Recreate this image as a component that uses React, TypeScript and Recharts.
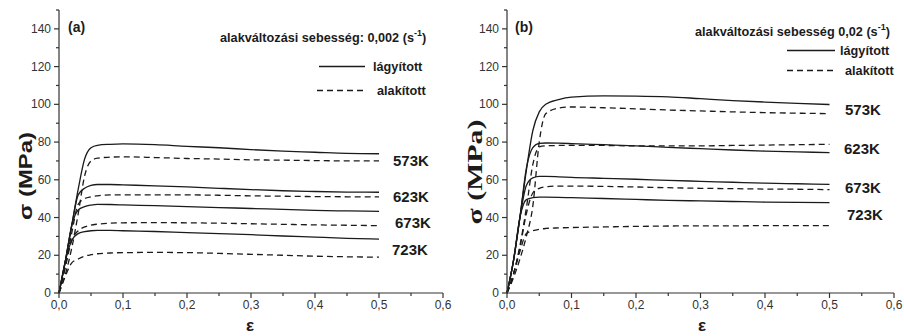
import { LineChart, Line, XAxis, YAxis } from 'recharts'

// strain points (ε) shared by every curve
const strain = [0, 0.01, 0.02, 0.03, 0.04, 0.05, 0.06, 0.08, 0.1, 0.15, 0.2, 0.25, 0.3, 0.35, 0.4, 0.45, 0.5]

// (a) 0,002 1/s  — s = lágyított (solid), d = alakított (dashed)
const a573s = [0, 17, 36, 55, 71, 77, 78.3, 78.8, 79, 78.6, 77.7, 77, 76, 75.2, 74.6, 74, 73.8]
const a573d = [0, 10, 24, 42, 62, 70, 71.5, 72, 72.2, 71.8, 71.3, 71, 70.6, 70.4, 70.2, 70, 70]
const a623s = [0, 17, 36, 52, 55.5, 57, 57.5, 57.5, 57.3, 56.8, 56.2, 55.5, 54.8, 54.2, 53.8, 53.5, 53.4]
const a623d = [0, 14, 32, 47, 50, 51, 51.5, 52, 52, 52, 52, 51.8, 51.5, 51.3, 51.1, 51, 50.9]
const a673s = [0, 17, 36, 44, 45.8, 46.6, 47, 46.9, 46.7, 46.3, 45.8, 45.3, 44.8, 44.3, 43.8, 43.5, 43.3]
const a673d = [0, 14, 28, 33, 35, 36, 36.5, 37, 37.2, 37.3, 37.2, 37, 36.7, 36.4, 36.1, 35.9, 35.7]
const a723s = [0, 17, 28, 31.5, 32.5, 33, 33.2, 33.2, 33, 32.6, 32, 31.5, 30.9, 30.2, 29.6, 29, 28.6]
const a723d = [0, 9, 16, 18, 19.5, 20.3, 20.8, 21.2, 21.4, 21.5, 21.4, 21, 20.5, 20, 19.5, 19.2, 19]

// (b) 0,02 1/s
const b573s = [0, 17, 40, 65, 86, 96, 100, 102.5, 103.8, 104.5, 104.4, 104, 103, 102, 101.2, 100.5, 99.9]
const b573d = [0, 8, 18, 30, 46, 80, 95, 98, 98.6, 98.2, 97.6, 97, 96.5, 96, 95.6, 95.3, 95.1]
const b623s = [0, 17, 40, 66, 77, 79.3, 79.5, 79.4, 79.2, 78.6, 78, 77.2, 76.5, 75.8, 75.2, 74.8, 74.4]
const b623d = [0, 10, 25, 45, 68, 77.5, 78, 78.2, 78.3, 78.2, 78, 78, 78, 78.2, 78.4, 78.6, 78.8]
const b673s = [0, 17, 40, 57, 61, 61.8, 61.8, 61.6, 61.3, 60.8, 60.3, 59.7, 59.2, 58.7, 58.2, 57.9, 57.6]
const b673d = [0, 10, 24, 42, 53, 55.5, 56.3, 56.7, 56.7, 56.5, 56.2, 55.8, 55.5, 55.3, 55.1, 55, 54.8]
const b723s = [0, 17, 40, 49.5, 50.5, 50.8, 50.8, 50.7, 50.5, 50.1, 49.6, 49.1, 48.8, 48.5, 48.2, 48, 47.9]
const b723d = [0, 10, 22, 31.5, 33, 33.8, 34.2, 34.5, 34.7, 35, 35.3, 35.5, 35.6, 35.6, 35.7, 35.7, 35.7]

const temps = ['573K', '623K', '673K', '723K']
const xTicks = [0, 0.05, 0.1, 0.15, 0.2, 0.25, 0.3, 0.35, 0.4, 0.45, 0.5, 0.55, 0.6]
const yTicks = [0, 10, 20, 30, 40, 50, 60, 70, 80, 90, 100, 110, 120, 130, 140, 150]

const INK = '#1b1b1b'
const AXIS = '#333'
const SANS = '"Liberation Sans", Arial, sans-serif'

function buildRows(series: number[][]) {
  return strain.map((e, i) => {
    const row: Record<string, number> = { e }
    series.forEach((s, k) => {
      row['k' + k] = s[i]
    })
    return row
  })
}

const rowsA = buildRows([a573s, a573d, a623s, a623d, a673s, a673d, a723s, a723d])
const rowsB = buildRows([b573s, b573d, b623s, b623d, b673s, b673d, b723s, b723d])

const isMajorX = (v: number) => Math.round(v * 100) % 10 === 0
const isMajorY = (v: number) => Math.round(v) % 20 === 0

function BottomTick(props: any) {
  const { x, y, payload } = props
  const major = isMajorX(payload.value)
  return (
    <g>
      <line x1={x} y1={y} x2={x} y2={y + (major ? 5 : 3)} stroke={AXIS} strokeWidth={1.2} />
      {major && (
        <text x={x} y={y + 12} textAnchor="middle" dominantBaseline="central" fontSize={12} fill="#333" fontFamily={SANS}>
          {payload.value.toFixed(1).replace('.', ',')}
        </text>
      )}
    </g>
  )
}

function TopTick(props: any) {
  const { x, y, payload } = props
  const major = isMajorX(payload.value)
  return <line x1={x} y1={y} x2={x} y2={y - (major ? 5 : 3)} stroke={AXIS} strokeWidth={1.2} />
}

function LeftTick(props: any) {
  const { x, y, payload } = props
  const major = isMajorY(payload.value)
  return (
    <g>
      <line x1={x} y1={y} x2={x - (major ? 5 : 3)} y2={y} stroke={AXIS} strokeWidth={1.2} />
      {major && payload.value < 150 && (
        <text x={x - 8} y={y} textAnchor="end" dominantBaseline="central" fontSize={12} fill="#333" fontFamily={SANS}>
          {payload.value}
        </text>
      )}
    </g>
  )
}

interface PanelProps {
  rows: Record<string, number>[]
  yWidth: number
  rightMargin: number
}

function Panel({ rows, yWidth, rightMargin }: PanelProps) {
  return (
    <LineChart width={452} height={336} data={rows} margin={{ top: 10, right: rightMargin, bottom: 0, left: 0 }}>
      <XAxis
        dataKey="e"
        type="number"
        domain={[0, 0.6]}
        ticks={xTicks}
        interval={0}
        height={43}
        tickSize={0}
        tickMargin={0}
        tickLine={false}
        axisLine={{ stroke: AXIS, strokeWidth: 1.2 }}
        tick={<BottomTick />}
      />
      <XAxis
        xAxisId="top"
        orientation="top"
        dataKey="e"
        type="number"
        domain={[0, 0.6]}
        ticks={xTicks}
        interval={0}
        height={0}
        tickSize={0}
        tickMargin={0}
        tickLine={false}
        axisLine={{ stroke: AXIS, strokeWidth: 1.2 }}
        tick={<TopTick />}
      />
      <YAxis
        type="number"
        domain={[0, 150]}
        ticks={yTicks}
        interval={0}
        width={yWidth}
        tickSize={0}
        tickMargin={0}
        tickLine={false}
        axisLine={{ stroke: AXIS, strokeWidth: 1.2 }}
        tick={<LeftTick />}
      />
      <YAxis
        yAxisId="right"
        orientation="right"
        type="number"
        domain={[0, 150]}
        width={0}
        tick={false}
        tickLine={false}
        axisLine={{ stroke: AXIS, strokeWidth: 1.2 }}
      />
      {[0, 1, 2, 3, 4, 5, 6, 7].map(k => (
        <Line
          key={k}
          dataKey={'k' + k}
          type="monotone"
          stroke={INK}
          strokeWidth={1.3}
          strokeDasharray={k % 2 === 1 ? '6 4' : undefined}
          dot={false}
          activeDot={false}
          isAnimationActive={false}
        />
      ))}
    </LineChart>
  )
}

const labelStyle = { fontFamily: SANS, fontWeight: 700, fill: '#1b1b1b' }
const LEG = 12.7

export default function App() {
  return (
    <div style={{ position: 'absolute', left: 0, top: 0, width: 904, height: 336, background: '#fff' }}>
      <div style={{ position: 'absolute', left: 0, top: 0 }}>
        <Panel rows={rowsA} yWidth={59} rightMargin={9} />
      </div>
      <div style={{ position: 'absolute', left: 452, top: 0 }}>
        <Panel rows={rowsB} yWidth={55} rightMargin={10} />
      </div>

      {/* annotations (a) */}
      <svg width={452} height={336} style={{ position: 'absolute', left: 0, top: 0, pointerEvents: 'none' }}>
        <text x={68} y={27} fontSize={14} dominantBaseline="central" {...labelStyle}>(a)</text>
        <text x={220} y={38} fontSize={LEG} dominantBaseline="central" {...labelStyle}>
          alakváltozási sebesség: 0,002 (s<tspan dy={-5} fontSize={9}>-1</tspan><tspan dy={5}>)</tspan>
        </text>
        <line x1={319} y1={66.5} x2={365} y2={66.5} stroke={INK} strokeWidth={1.3} />
        <text x={373} y={67} fontSize={LEG} dominantBaseline="central" {...labelStyle}>lágyított</text>
        <line x1={317} y1={90.5} x2={367} y2={90.5} stroke={INK} strokeWidth={1.3} strokeDasharray="6 4" />
        <text x={377} y={91} fontSize={LEG} dominantBaseline="central" {...labelStyle}>alakított</text>
        {temps.map((t, i) => (
          <text key={t} x={[393, 393, 395, 392][i]} y={[160, 196, 222, 249][i]} fontSize={15} dominantBaseline="central" {...labelStyle}>{t}</text>
        ))}
        <text
          transform="translate(25,176) rotate(-90)"
          textAnchor="middle"
          dominantBaseline="central"
          fontSize={19}
          textLength={88}
          lengthAdjust="spacingAndGlyphs"
          {...labelStyle}
        >
          σ (MPa)
        </text>
        <text x={250} y={325} textAnchor="middle" dominantBaseline="central" fontSize={17} {...labelStyle}>ε</text>
      </svg>

      {/* annotations (b) */}
      <svg width={452} height={336} style={{ position: 'absolute', left: 452, top: 0, pointerEvents: 'none' }}>
        <text x={63} y={27} fontSize={14} dominantBaseline="central" {...labelStyle}>(b)</text>
        <text x={243} y={32} fontSize={LEG} dominantBaseline="central" {...labelStyle}>
          alakváltozási sebesség 0,02 (s<tspan dy={-5} fontSize={9}>-1</tspan><tspan dy={5}>)</tspan>
        </text>
        <line x1={335} y1={50.5} x2={383} y2={50.5} stroke={INK} strokeWidth={1.3} />
        <text x={388} y={51} fontSize={LEG} dominantBaseline="central" {...labelStyle}>lágyított</text>
        <line x1={335} y1={70.5} x2={382} y2={70.5} stroke={INK} strokeWidth={1.3} strokeDasharray="6 4" />
        <text x={393} y={71} fontSize={LEG} dominantBaseline="central" {...labelStyle}>alakított</text>
        {temps.map((t, i) => (
          <text key={t} x={[393, 392, 393, 395][i]} y={[109, 148, 187, 214][i]} fontSize={15} dominantBaseline="central" {...labelStyle}>{t}</text>
        ))}
        <text
          transform="translate(23,172) rotate(-90)"
          textAnchor="middle"
          dominantBaseline="central"
          fontSize={20}
          textLength={105}
          lengthAdjust="spacingAndGlyphs"
          fontFamily='"Liberation Serif", "Times New Roman", serif'
          fontWeight={700}
          fill="#1b1b1b"
        >
          σ (MPa)
        </text>
        <text x={250} y={325} textAnchor="middle" dominantBaseline="central" fontSize={17} {...labelStyle}>ε</text>
      </svg>
    </div>
  )
}
